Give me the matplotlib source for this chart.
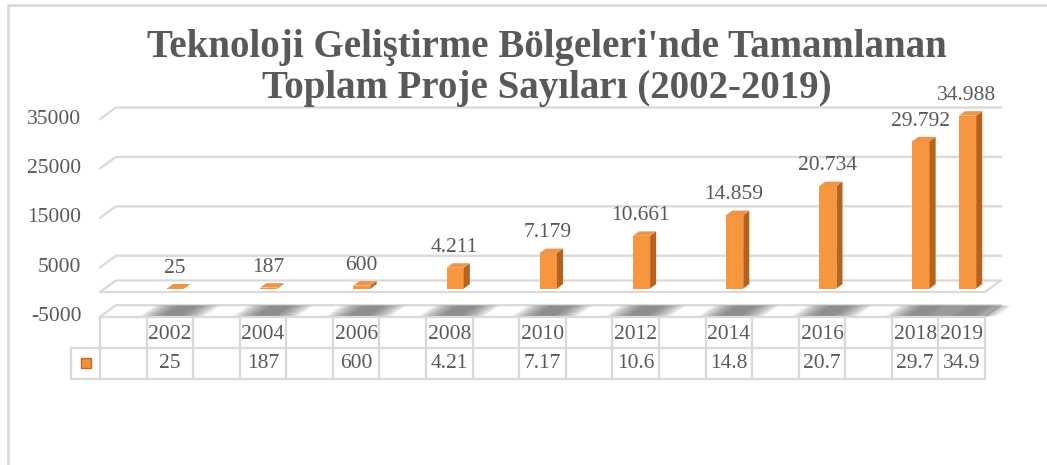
import matplotlib
matplotlib.use("Agg")
import matplotlib.pyplot as plt
from matplotlib.patches import Polygon, Rectangle
from matplotlib.lines import Line2D

# ---------------- data ----------------
title_lines = ["Teknoloji Geliştirme Bölgeleri'nde Tamamlanan",
               "Toplam Proje Sayıları (2002-2019)"]
years = [2002, 2004, 2006, 2008, 2010, 2012, 2014, 2016, 2018, 2019]
projects = [25, 187, 600, 4211, 7179, 10661, 14859, 20734, 29792, 34988]
first_year, last_year = 2001, 2019
y_ticks = [-5000, 5000, 15000, 25000, 35000]
y_min, y_max = -5000, 40000


def tr_fmt(v):
    return f"{v:,}".replace(",", ".")


# ---------------- style ----------------
W, H = 1047, 465
GRID = "#D9D9D9"
TEXT = "#595959"
FRONT = "#F7963F"
SIDE = "#B8611C"
CAP = "#EE9446"
FONT = "Liberation Serif"
FS = 15.5
plt.rcParams["font.family"] = [FONT, "DejaVu Serif"]

fig = plt.figure(figsize=(W / 100, H / 100), dpi=100)


def px_ax(x0, y0, x1, y1):
    a = fig.add_axes([x0 / W, 1 - y1 / H, (x1 - x0) / W, (y1 - y0) / H])
    a.set_axis_off()
    return a


ncat = last_year - first_year + 1
ax = px_ax(100, 94.3, 985, 316.7)
ax.set_xlim(-0.5, ncat - 0.5)
ax.set_ylim(y_min, y_max)

DX = 0.343     # depth offset (category units)
DY = 2330      # depth offset (value units)
lw = 1.6

# gridlines / walls
for t in y_ticks[1:]:
    ax.plot([-0.5, -0.5 + DX, ncat - 0.5 + DX], [t, t + DY, t + DY],
            color=GRID, lw=lw, clip_on=False, zorder=1)
# zero plate
ax.plot([ncat - 0.5, -0.5, -0.5 + DX, ncat - 0.5 + DX, ncat - 0.5],
        [0, 0, DY, DY, 0], color=GRID, lw=lw, clip_on=False, zorder=1)
# floor
F = y_ticks[0]
ax.plot([-0.5, -0.5 + DX, ncat - 0.5 + DX, ncat - 0.5],
        [F, F + DY, F + DY, F], color=GRID, lw=lw, clip_on=False, zorder=1)

# tick labels
for t in y_ticks:
    ax.text(-0.9, t, f"{t}", ha="right", va="center", fontsize=FS,
            color=TEXT, clip_on=False)

# soft shadows on floor
for yr in years:
    i = yr - first_year
    c = i + 0.04
    n = 12
    for k in range(n):
        w = 0.7 - 0.045 * k
        ax.add_patch(Polygon([(c - w, F + 80), (c + w, F + 80),
                              (c + w + DX, F + DY - 80), (c - w + DX, F + DY - 80)],
                             closed=True, facecolor="#5A5A5A", edgecolor="none",
                             alpha=0.085, zorder=2, clip_on=False))

# bars
B = 700
sx, sy = 0.13, 900
for yr, v in zip(years, projects):
    i = yr - first_year
    x0, x1 = i - 0.06, i + 0.31
    top = B + v
    ax.add_patch(Rectangle((x0, B), x1 - x0, v, facecolor=FRONT,
                           edgecolor="none", zorder=4))
    ax.add_patch(Polygon([(x1, B), (x1 + sx, B + sy), (x1 + sx, top + sy), (x1, top)],
                         closed=True, facecolor=SIDE, edgecolor="none", zorder=4))
    ax.add_patch(Polygon([(x0, top), (x1, top), (x1 + sx, top + sy), (x0 + sx, top + sy)],
                         closed=True, facecolor=CAP, edgecolor="none", zorder=5))
    ax.text(i + 0.11, v + 4800, tr_fmt(v), ha="center", va="center",
            fontsize=FS, color=TEXT, clip_on=False, zorder=6)

# ---------------- data table ----------------
axt = px_ax(100, 316.7, 985, 379)
axt.set_xlim(-0.5, ncat - 0.5)
axt.set_ylim(0, 2)
leg_x = -1.12
for yy in (0, 1):
    axt.plot([leg_x, ncat - 0.5], [yy, yy], color=GRID, lw=lw, clip_on=False)
axt.plot([-0.5, ncat - 0.5], [2, 2], color=GRID, lw=lw, clip_on=False)
for k in range(ncat + 1):
    axt.plot([k - 0.5, k - 0.5], [0, 2], color=GRID, lw=lw, clip_on=False)
axt.plot([leg_x, leg_x], [0, 1], color=GRID, lw=lw, clip_on=False)
for yr, v in zip(years, projects):
    i = yr - first_year
    axt.text(i, 1.42, str(yr), ha="center", va="center", fontsize=FS,
             color=TEXT, clip_on=False)
    axt.text(i, 0.5, tr_fmt(v)[:4], ha="center", va="center", fontsize=FS,
             color=TEXT, clip_on=False)
axt.plot([(leg_x - 0.5) / 2], [0.5], marker="s", markersize=7,
         markerfacecolor="#F0913C", markeredgecolor="#C8681E", clip_on=False)

# ---------------- title & border ----------------
fig.text(547 / W, 1 - 57 / H, title_lines[0], ha="center", va="baseline",
         fontsize=28, fontweight="bold", color=TEXT)
fig.text(547 / W, 1 - 98 / H, title_lines[1], ha="center", va="baseline",
         fontsize=28, fontweight="bold", color=TEXT)
fig.add_artist(Line2D([8 / W, 8 / W, 1], [0, 1 - 5 / H, 1 - 5 / H],
                      transform=fig.transFigure, color=GRID, lw=2))

fig.savefig("out.png", dpi=100, facecolor="white")
